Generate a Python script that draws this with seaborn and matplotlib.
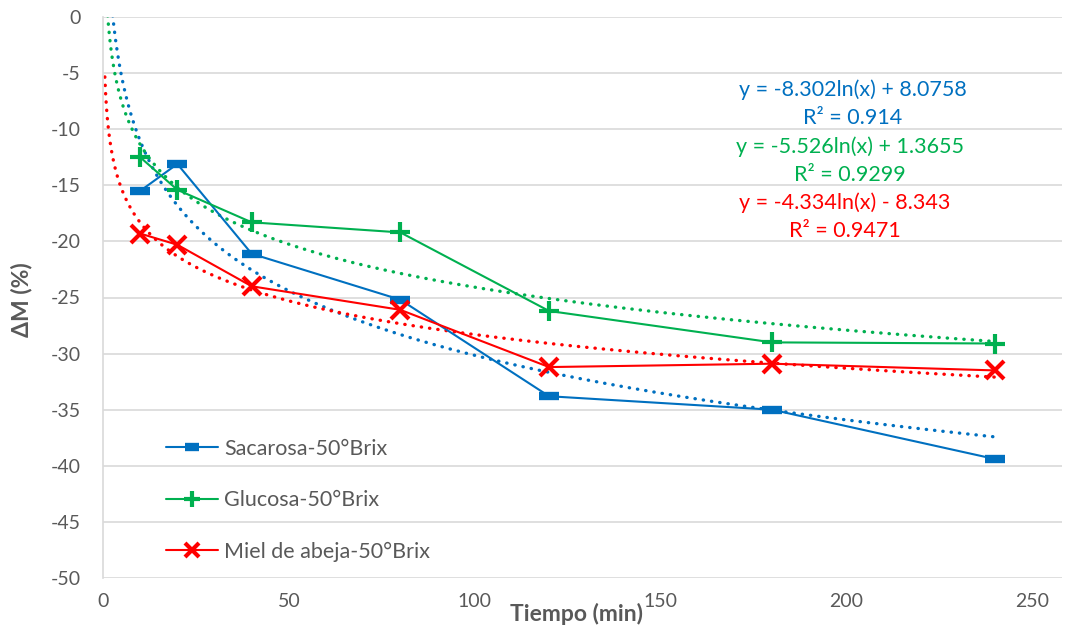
import numpy as np
import pandas as pd
import matplotlib
matplotlib.use("Agg")
import matplotlib.pyplot as plt
import seaborn as sns

# data
tiempo = [10, 20, 40, 80, 120, 180, 240]
sacarosa = [-15.5, -13.1, -21.1, -25.2, -33.8, -35.0, -39.4]
glucosa = [-12.5, -15.4, -18.3, -19.2, -26.2, -29.0, -29.1]
miel = [-19.3, -20.3, -24.0, -26.1, -31.2, -30.9, -31.5]

series_names = ["Sacarosa-50°Brix", "Glucosa-50°Brix", "Miel de abeja-50°Brix"]
series_values = [sacarosa, glucosa, miel]

# logarithmic trendline coefficients shown on the chart: y = a ln(x) + b
trend_a = [-8.302, -5.526, -4.334]
trend_b = [8.0758, 1.3655, -8.343]
trend_text = [
    ("y = -8.302ln(x) + 8.0758", "R² = 0.914"),
    ("y = -5.526ln(x) + 1.3655", "R² = 0.9299"),
    ("y = -4.334ln(x) - 8.343", "R² = 0.9471"),
]

colors = ["#0070C0", "#00B050", "#FF0000"]
markers = ["_", "+", "x"]
msizes = [14, 15, 13]
mews = [6, 3, 3]

sns.set_style("white")
plt.rcParams["font.family"] = ["Lato", "DejaVu Sans"]
plt.rcParams["axes.unicode_minus"] = False

fig = plt.figure(figsize=(10.67, 6.3), dpi=100)
ax = fig.add_axes([103 / 1067, 1 - 578 / 630, (1062 - 103) / 1067, (578 - 17) / 630])

# trendlines (dotted)
xt = np.geomspace(0.5, 240, 400)
for a, b, c in zip(trend_a, trend_b, colors):
    df_t = pd.DataFrame({"x": xt, "y": a * np.log(xt) + b})
    sns.lineplot(data=df_t, x="x", y="y", ax=ax, color=c, lw=2.4,
                 linestyle=(0, (0.1, 2.4)), dash_capstyle="round",
                 legend=False, sort=False, zorder=2)

# data series
for name, vals, c, m, ms, mew in zip(series_names, series_values, colors, markers, msizes, mews):
    df = pd.DataFrame({"Tiempo": tiempo, "dM": vals})
    sns.lineplot(data=df, x="Tiempo", y="dM", ax=ax, color=c, lw=1.5,
                 marker=m, markersize=ms, markeredgewidth=mew,
                 markeredgecolor=c, markerfacecolor=c, label=name,
                 sort=False, zorder=3)

ax.set_xlim(0, 258)
ax.set_ylim(-50, 0)
ax.set_xticks(range(0, 251, 50))
ax.set_yticks(range(-50, 1, 5))
ax.yaxis.grid(True, color="#d9d9d9", lw=1.2)
ax.xaxis.grid(False)
for s in ["top", "right", "bottom"]:
    ax.spines[s].set_visible(False)
ax.spines["left"].set_color("#d9d9d9")
ax.spines["left"].set_linewidth(1.2)
ax.tick_params(axis="y", length=0, pad=16, labelsize=14, labelcolor="#595959")
ax.tick_params(axis="x", length=0, pad=11, labelsize=14, labelcolor="#595959")
ax.set_xlabel("")
ax.set_ylabel("")

fig.text(577 / 1067, 1 - 614 / 630, "Tiempo (min)", ha="center", va="center",
         fontsize=16.5, fontweight="bold", color="#595959")
fig.text(21 / 1067, 1 - 300 / 630, "ΔM (%)", ha="center", va="center",
         rotation=90, fontsize=16.5, fontweight="bold", color="#595959")

# trendline equations
eq_y = [90, 147, 203]
eq_x = [853, 850, 845]
for (eq, r2), c, yy, xx in zip(trend_text, colors, eq_y, eq_x):
    fig.text(xx / 1067, 1 - yy / 630, eq, ha="center", va="center", fontsize=15.5, color=c)
    fig.text(xx / 1067, 1 - (yy + 28) / 630, r2, ha="center", va="center", fontsize=15.5, color=c)

leg = ax.legend(loc="upper left", bbox_to_anchor=((166 - 103) / 959, 1 - (439 - 17) / 561),
                frameon=False, fontsize=15.5, handlelength=2.4, labelspacing=1.45,
                handletextpad=0.3, borderpad=0, borderaxespad=0,
                labelcolor="#595959")
for h in leg.legend_handles:
    h.set_markersize(h.get_markersize() * 0.75)

fig.savefig("out.png", dpi=100)
